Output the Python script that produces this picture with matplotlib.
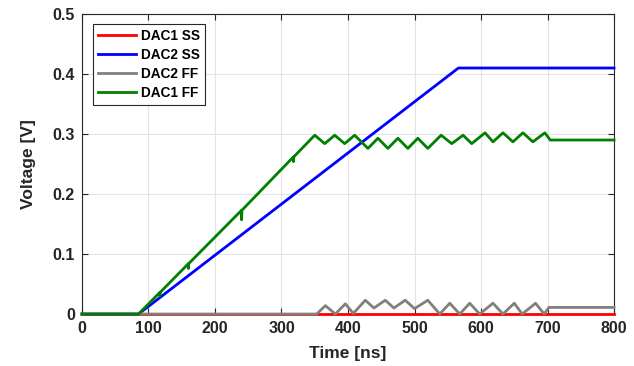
import numpy as np
import matplotlib.pyplot as plt
from matplotlib.ticker import FormatStrFormatter

plt.rcParams['font.family'] = ['Liberation Sans', 'DejaVu Sans']

# --------------------- DATA ---------------------

# DAC1 SS stays at zero
t_dac1_ss = [0, 800]
v_dac1_ss = [0, 0]

# DAC2 SS ramp then hold
t_dac2_ss = [0, 85, 566, 800]
v_dac2_ss = [0, 0, 0.41, 0.41]

# DAC2 FF zigzag near zero
t_dac2_ff = [0, 353, 366, 381, 396, 408, 426, 439, 456, 469, 486, 500, 520,
             538, 553, 568, 583, 598, 618, 633, 650, 662, 682, 695, 702, 800]
v_dac2_ff = [0, 0, 0.014, 0, 0.017, 0.001, 0.023, 0.01, 0.023, 0.01, 0.023,
             0.009, 0.023, 0, 0.018, 0, 0.018, 0, 0.018, 0, 0.018, 0, 0.018,
             0, 0.011, 0.011]

# DAC1 FF ramp with small glitches, then zigzag and hold
t_dac1_ff = [0, 85, 117, 117, 117.5, 160, 160, 160.5, 240, 240, 240.5,
             318, 318, 318.5, 350, 365, 380, 395, 410, 430, 445, 460, 475,
             490, 505, 520, 540, 556, 573, 586, 606, 618, 633, 648, 663,
             678, 696, 704, 800]
v_dac1_ff = [0, 0, 0.036, 0.030, 0.036, 0.084, 0.076, 0.084, 0.173, 0.157,
             0.173, 0.262, 0.254, 0.262, 0.298, 0.284, 0.298, 0.284, 0.298,
             0.276, 0.293, 0.276, 0.293, 0.276, 0.293, 0.276, 0.298, 0.284,
             0.298, 0.284, 0.302, 0.287, 0.302, 0.287, 0.302, 0.287, 0.302,
             0.29, 0.29]

x_ticks = np.arange(0, 801, 100)
y_ticks = np.arange(0, 0.51, 0.1)

# --------------------- PLOT ---------------------

fig = plt.figure(figsize=(6.34, 3.66), dpi=100)
ax = fig.add_axes([0.1293, 0.142, 0.8392, 0.8197])

lw = 2.0
ax.plot(t_dac1_ss, v_dac1_ss, color='#ff0000', lw=lw, label="DAC1 SS", clip_on=False, zorder=3)
ax.plot(t_dac2_ss, v_dac2_ss, color='#0000ff', lw=lw, label="DAC2 SS", clip_on=False, zorder=3)
ax.plot(t_dac2_ff, v_dac2_ff, color='#808080', lw=lw, label="DAC2 FF", clip_on=False, zorder=3)
ax.plot(t_dac1_ff, v_dac1_ff, color='#008000', lw=lw, label="DAC1 FF", clip_on=False, zorder=3)

ax.set_xlim(0, 800)
ax.set_ylim(0, 0.5)
ax.set_xticks(x_ticks)
ax.set_yticks(y_ticks)
ax.yaxis.set_major_formatter(FormatStrFormatter('%g'))
ax.grid(True, color='#e3e3e3', lw=0.8)
ax.set_axisbelow(True)

ax.tick_params(direction='in', length=4, width=0.8, colors='#262626',
               top=True, right=True, labelsize=11.5, pad=5)
for lbl in ax.get_xticklabels() + ax.get_yticklabels():
    lbl.set_fontweight('bold')
for s in ax.spines.values():
    s.set_color('#262626')
    s.set_linewidth(0.8)

ax.set_xlabel("Time [ns]", fontsize=12.5, fontweight='bold', color='#262626',
              labelpad=7)
ax.set_ylabel("Voltage [V]", fontsize=12.5, fontweight='bold', color='#262626',
              labelpad=12)

leg = ax.legend(loc='upper left', bbox_to_anchor=(0.021, 0.967), fancybox=False,
                edgecolor='#262626', framealpha=1, handlelength=2.8,
                borderpad=0.35, labelspacing=0.38, handletextpad=0.4,
                borderaxespad=0, prop={'weight': 'bold', 'size': 9.8})
leg.get_frame().set_linewidth(0.8)
leg.set_zorder(5)

plt.savefig("out.png", dpi=100)
